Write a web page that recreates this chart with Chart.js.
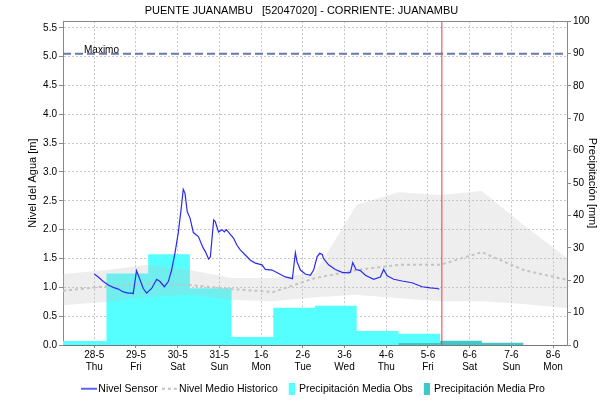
<!DOCTYPE html>
<html><head><meta charset="utf-8">
<script src="https://cdn.jsdelivr.net/npm/chart.js@4"></script>
<style>html,body{margin:0;padding:0;background:#fff}</style>
</head><body>
<canvas id="c" width="603" height="404"></canvas>
<script>
// ---- data ----
const chartTitle = 'PUENTE JUANAMBU   [52047020] - CORRIENTE: JUANAMBU';
const dayLabels = ['28-5','29-5','30-5','31-5','1-6','2-6','3-6','4-6','5-6','6-6','7-6','8-6'];
const dayNames  = ['Thu','Fri','Sat','Sun','Mon','Tue','Wed','Thu','Fri','Sat','Sun','Mon'];
const levelTicks  = [0,0.5,1,1.5,2,2.5,3,3.5,4,4.5,5,5.5];
const precipTicks = [0,10,20,30,40,50,60,70,80,90,100];
const xMinHour = -18, xMaxHour = 272;   // hours from 28-5 00:00
const levelMax = 5.615, precipMax = 100;
const nivelMaximo = 5.05;
const currentHour = 200;

const sensorHours = [0,2.3,5.2,8.1,10.9,13.8,16.7,19.6,21.5,22.4,24.3,26.3,28.2,30.1,33.0,35.9,37.8,40.3,42.6,44.5,46.4,48.3,49.9,51.2,52.2,53.5,55.1,57.0,59.9,62.7,63.9,65.8,66.8,68.7,69.6,71.5,73.5,74.8,76.0,78.3,80.2,82.1,84.0,86.9,89.8,92.7,96.5,98.4,102.3,106.1,109.9,112.8,114.0,115.7,116.7,118.6,121.4,124.3,126.2,128.2,129.7,131.2,131.9,134.8,138.7,142.6,146.4,147.4,148.7,150.6,153.1,156.0,160.7,164.6,166.5,168.5,172.3,177.1,182.8,188.6,193.4,197.2,198.5];
const sensorLevel = [1.23,1.18,1.10,1.04,1.00,0.97,0.92,0.90,0.90,0.89,1.29,1.13,0.98,0.90,0.98,1.14,1.10,1.01,1.10,1.30,1.59,1.94,2.34,2.70,2.63,2.31,2.20,1.95,1.88,1.68,1.62,1.49,1.53,2.17,2.14,1.96,2.00,1.96,2.00,1.92,1.85,1.73,1.65,1.56,1.47,1.42,1.39,1.31,1.30,1.24,1.18,1.16,1.15,1.60,1.44,1.30,1.23,1.21,1.30,1.53,1.59,1.57,1.50,1.39,1.31,1.26,1.25,1.26,1.43,1.31,1.29,1.21,1.14,1.18,1.31,1.20,1.14,1.11,1.08,1.01,0.99,0.98,0.97];

const histHours  = [-18,7,31,55,79,103,127,151,175,199,223,247,272];
const histMedian = [0.94,1.02,1.06,1.04,0.97,0.92,1.16,1.30,1.39,1.39,1.61,1.30,1.13];
const histUpper  = [1.23,1.30,1.39,1.30,1.16,1.16,1.25,2.43,2.65,2.60,2.67,2.08,1.51];
const histLower  = [0.69,0.75,0.83,0.87,0.78,0.76,0.83,0.87,0.81,0.76,0.76,0.71,0.64];

const obsStartHours = [-18,7,31,55,79,103,127,151,175];
const obsEndHour = 199;
const precipObs = [1.2,22.1,28.0,17.5,2.5,11.5,12.1,4.3,3.5];
const proStartHours = [175,199,223];
const proEndHour = 247;
const precipPro = [0.6,1.3,0.7];

// ---- helpers ----
const FONT = '"Liberation Sans", Arial, sans-serif';
Chart.defaults.font.family = FONT;
Chart.defaults.color = '#000';

function xy(xs, ys){ return xs.map((x,i)=>({x:x, y:ys[i]})); }
function steps(starts, vals, end){ const d = xy(starts, vals); d.push({x:end, y:vals[vals.length-1]}); return d; }
function lineIcon(color, dash, w){ const c=document.createElement('canvas'); c.width=16; c.height=4; const g=c.getContext('2d'); g.strokeStyle=color; g.lineWidth=w; g.setLineDash(dash); g.beginPath(); g.moveTo(0,2); g.lineTo(16,2); g.stroke(); return c; }
function boxIcon(color){ const c=document.createElement('canvas'); c.width=10; c.height=12; const g=c.getContext('2d'); g.fillStyle=color; g.fillRect(4,0,6,12); return c; }

const C_SENSOR='#2b2bf0', C_MED='#c4c4c4', C_OBS='#55ffff', C_PRO='#40c8c8';
const legendFont = 10.5, legendPad = 8;
const TRANSP = 'rgba(0,0,0,0)';

const overlay = {
  id:'overlay',
  afterDatasetsDraw(chart){
    const {ctx, chartArea:a, scales} = chart;
    ctx.save();
    ctx.strokeStyle='#888'; ctx.lineWidth=1;
    ctx.beginPath(); ctx.moveTo(a.left, Math.round(a.top)+0.5); ctx.lineTo(a.right, Math.round(a.top)+0.5); ctx.stroke();
    ctx.fillStyle='#000'; ctx.font='10px '+FONT; ctx.textBaseline='alphabetic';
    ctx.fillText('Maximo', a.left+21, scales.y.getPixelForValue(nivelMaximo)-1);
    ctx.restore();
  }
};

new Chart(document.getElementById('c'), {
  type:'line',
  data:{ datasets:[
    {label:'Nivel Sensor', data:xy(sensorHours,sensorLevel), borderColor:C_SENSOR, borderWidth:1.2, pointRadius:0, yAxisID:'y', order:0},
    {label:'Nivel Medio Historico', data:xy(histHours,histMedian), borderColor:C_MED, borderWidth:2, borderDash:[3,3], pointRadius:0, yAxisID:'y', order:1},
    {label:'bandUpper', data:xy(histHours,histUpper), borderColor:TRANSP, borderWidth:0, pointRadius:0, fill:'+1', backgroundColor:'rgba(190,190,190,0.26)', yAxisID:'y', order:2},
    {label:'bandLower', data:xy(histHours,histLower), borderColor:TRANSP, borderWidth:0, pointRadius:0, fill:false, yAxisID:'y', order:2},
    {label:'Precipitación Media Obs', data:steps(obsStartHours,precipObs,obsEndHour), stepped:true, borderColor:TRANSP, borderWidth:0, pointRadius:0, fill:'origin', backgroundColor:C_OBS, yAxisID:'y1', order:4},
    {label:'Precipitación Media Pro', data:steps(proStartHours,precipPro,proEndHour), stepped:true, borderColor:TRANSP, borderWidth:0, pointRadius:0, fill:'origin', backgroundColor:C_PRO, yAxisID:'y1', order:3},
    {label:'Maximo', data:[{x:xMinHour,y:nivelMaximo},{x:xMaxHour,y:nivelMaximo}], borderColor:'#6a78b0', borderWidth:2, borderDash:[8,4], pointRadius:0, yAxisID:'y', order:1},
    {label:'now', data:[{x:currentHour,y:0},{x:currentHour,y:precipMax}], borderColor:'#f03c3c', borderWidth:1, pointRadius:0, yAxisID:'y1', order:0}
  ]},
  options:{
    responsive:false, animation:false, devicePixelRatio:1,
    layout:{padding:0},
    plugins:{
      tooltip:{enabled:false},
      title:{display:true, text:chartTitle, color:'#000', font:{size:11, weight:'normal'}, padding:{top:4,bottom:4}},
      legend:{
        position:'bottom', fullSize:false,
        labels:{
          usePointStyle:true, pointStyleWidth:8, padding:legendPad, font:{size:legendFont}, color:'#000',
          generateLabels:()=>[
            {text:'Nivel Sensor', pointStyle:lineIcon(C_SENSOR,[],1.5), datasetIndex:0, lineWidth:0},
            {text:'Nivel Medio Historico', pointStyle:lineIcon('#c0c0c0',[3,3],2), datasetIndex:1, lineWidth:0},
            {text:'Precipitación Media Obs', pointStyle:boxIcon(C_OBS), datasetIndex:4, lineWidth:0},
            {text:'Precipitación Media Pro', pointStyle:boxIcon(C_PRO), datasetIndex:5, lineWidth:0}
          ]
        },
        onClick:()=>{}
      }
    },
    scales:{
      x:{
        type:'linear', min:xMinHour, max:xMaxHour,
        afterBuildTicks:s=>{ s.ticks = dayLabels.map((_,i)=>({value:i*24})); },
        afterFit:s=>{ s.height = 404 - (legendFont + legendPad + 10) - 345; },
        ticks:{autoSkip:false, maxRotation:0, padding:1, font:{size:10}, callback:v=>{ const i=Math.round(v/24); return [dayLabels[i], dayNames[i]]; }},
        grid:{color:'#c8c8c8', tickLength:3, tickColor:'#888'},
        border:{color:'#777', dash:[2,2]}
      },
      y:{
        position:'left', min:0, max:levelMax,
        afterBuildTicks:s=>{ s.ticks = levelTicks.map(v=>({value:v})); },
        afterFit:s=>{ s.width = 63; },
        ticks:{padding:2, font:{size:10}, callback:v=>Number(v).toFixed(1)},
        grid:{color:'#c8c8c8', tickLength:4, tickColor:'#888'},
        border:{color:'#888', dash:[2,2]},
        title:{display:true, text:'Nivel del Agua [m]', font:{size:11}, padding:{top:26,bottom:0}}
      },
      y1:{
        position:'right', min:0, max:precipMax,
        afterBuildTicks:s=>{ s.ticks = precipTicks.map(v=>({value:v})); },
        afterFit:s=>{ s.width = 36; },
        ticks:{padding:2, font:{size:10}},
        grid:{drawOnChartArea:false, tickLength:4, tickColor:'#888'},
        border:{color:'#888'},
        title:{display:true, text:'Precipitación [mm]', font:{size:11}, padding:{top:4,bottom:0}}
      }
    }
  },
  plugins:[overlay]
});
</script>
</body></html>
